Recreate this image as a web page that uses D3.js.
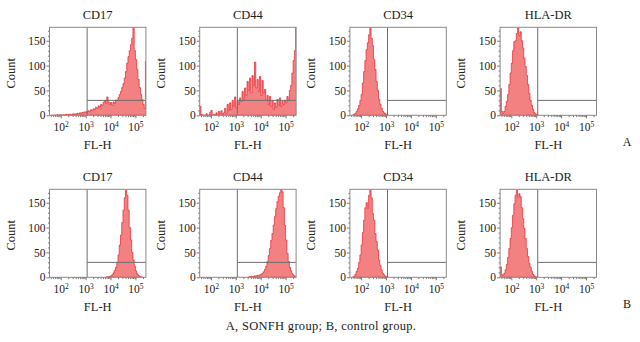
<!DOCTYPE html>
<html>
<head>
<meta charset="utf-8">
<script src="https://cdn.jsdelivr.net/npm/d3@7"></script>
<style>
  body { margin: 0; background: #fff; }
  svg text { font-family: "Liberation Serif", "Times New Roman", serif !important; fill: #222; }
</style>
</head>
<body>
<div id="chart"></div>
<script>
const markers = ['CD17', 'CD44', 'CD34', 'HLA-DR'];
const groupLabels = ['A', 'B'];
const caption = 'A, SONFH group; B, control group.';
const xTicks = [1e2, 1e3, 1e4, 1e5];
const yTicks = [0, 50, 100, 150];
const logRange = [1.55, 5.42];   // log10 of FL-H shown on the x axis
const countMax = 177;
const gateX = 1150;
const gateY = 30;
const binStep = 0.05;           // bin width in log10 units

// log10 of the first bin of each histogram
const binStartA = [1.60, 1.55, 1.65, 1.55];
const binStartB = [3.80, 3.50, 1.65, 1.55];

// SONFH group counts
const countsA_CD17 = [0, 0, 0, 0, 0, 1, 0, 1, 1, 0,
  1, 1, 2, 1, 2, 2, 1, 2, 3, 2,
  3, 4, 3, 5, 4, 6, 5, 7, 6, 8,
  9, 8, 11, 10, 13, 12, 16, 14, 19, 17,
  22, 20, 26, 30, 24, 37, 27, 22, 26, 20,
  27, 24, 31, 30, 36, 42, 48, 56, 64, 75,
  88, 105, 118, 130, 142, 155, 178, 130, 112, 92,
  72, 56, 42, 32, 22, 14, 108];
const countsA_CD44 = [18, 2, 0, 0, 0, 3, 0, 0, 6, 10,
  0, 2, 0, 5, 0, 8, 3, 9, 2, 5,
  14, 4, 22, 10, 25, 12, 30, 18, 37, 15,
  28, 22, 35, 28, 48, 32, 55, 40, 68, 50,
  75, 45, 80, 60, 107, 55, 72, 48, 78, 40,
  70, 45, 52, 30, 40, 22, 38, 18, 30, 12,
  25, 16, 32, 20, 35, 18, 28, 22, 30, 25,
  38, 32, 50, 60, 85, 110, 130, 178];
const countsA_CD34 = [0, 2, 4, 8, 13, 20, 30, 42, 65, 88,
  110, 132, 146, 162, 178, 155, 140, 112, 92, 68,
  50, 32, 22, 14, 8, 5, 3, 1, 0];
const countsA_HLADR = [54, 8, 4, 8, 18, 28, 42, 62, 85, 105,
  130, 148, 150, 165, 176, 160, 168, 150, 135, 115,
  98, 80, 62, 44, 30, 20, 12, 6, 3, 1, 0];

// control group counts
const countsB_CD17 = [0, 1, 1, 2, 3, 5, 9, 14, 20, 30,
  45, 65, 85, 110, 135, 160, 175, 165, 135, 100,
  75, 50, 35, 22, 13, 7, 4, 2, 1, 0];
const countsB_CD44 = [1, 1, 2, 1, 2, 3, 3, 4, 4, 5,
  6, 8, 11, 16, 22, 32, 44, 58, 74, 88,
  105, 122, 138, 152, 163, 170, 178, 172, 140, 105,
  75, 48, 32, 20, 13, 7, 4, 2, 1];
const countsB_CD34 = [0, 2, 6, 12, 18, 30, 45, 65, 90, 115,
  140, 150, 138, 165, 178, 160, 128, 115, 88, 72,
  55, 35, 24, 15, 8, 5, 2, 1, 0];
const countsB_HLADR = [21, 6, 4, 8, 15, 26, 40, 58, 78, 100,
  125, 148, 165, 175, 160, 168, 162, 140, 118, 98,
  78, 58, 42, 28, 20, 12, 6, 3, 1, 0];

const rows = [
  {label: groupLabels[0], starts: binStartA,
   counts: [countsA_CD17, countsA_CD44, countsA_CD34, countsA_HLADR]},
  {label: groupLabels[1], starts: binStartB,
   counts: [countsB_CD17, countsB_CD44, countsB_CD34, countsB_HLADR]},
];

const serif = '"Liberation Serif", "Times New Roman", serif';
const width = 640, height = 342;
const plotW = 96.4, plotH = 88;
const panelLeft = 49.5, panelPitch = 150.2;
const rowTop = [27.3, 189.3];

const svg = d3.select('#chart').append('svg')
  .attr('width', width)
  .attr('height', height)
  .attr('font-family', serif);

const x = d3.scaleLog()
  .domain(logRange.map(v => Math.pow(10, v)))
  .range([0, plotW]);
const y = d3.scaleLinear().domain([0, countMax]).range([plotH, 0]);

// minor log ticks 2..9 x 10^k inside the domain
const minorX = [];
for (let k = 1; k <= 5; k++) {
  for (let m = 2; m <= 9; m++) {
    const v = m * Math.pow(10, k);
    if (v >= x.domain()[0] && v <= x.domain()[1]) minorX.push(v);
  }
}
const minorY = d3.range(0, 171, 10).filter(v => v % 50 !== 0);

const area = d3.area()
  .x(d => x(d.x))
  .y0(plotH)
  .y1(d => y(d.c))
  .curve(d3.curveStepAfter);

rows.forEach((row, r) => {
  markers.forEach((name, i) => {
    const g = svg.append('g')
      .attr('transform', `translate(${panelLeft + i * panelPitch}, ${rowTop[r]})`);

    const clipId = `clip-${r}-${i}`;
    g.append('clipPath').attr('id', clipId)
      .append('rect').attr('width', plotW).attr('height', plotH);

    // histogram bins -> step outline
    const counts = row.counts[i];
    const start = row.starts[i];
    const pts = counts.map((c, j) => ({x: Math.pow(10, start + j * binStep), c}));
    pts.push({x: Math.pow(10, start + counts.length * binStep), c: counts[counts.length - 1]});

    g.append('path')
      .attr('clip-path', `url(#${clipId})`)
      .attr('d', area(pts))
      .attr('fill', '#f38181')
      .attr('stroke', '#e8232b')
      .attr('stroke-width', 0.7);

    // gate lines
    g.append('line')
      .attr('x1', x(gateX)).attr('x2', x(gateX))
      .attr('y1', 0).attr('y2', plotH)
      .attr('stroke', '#6e6e6e').attr('stroke-width', 1);
    g.append('line')
      .attr('x1', x(gateX)).attr('x2', plotW)
      .attr('y1', y(gateY)).attr('y2', y(gateY))
      .attr('stroke', '#6e6e6e').attr('stroke-width', 1);

    // frame
    g.append('rect')
      .attr('width', plotW).attr('height', plotH)
      .attr('fill', 'none')
      .attr('stroke', '#8a8a8a').attr('stroke-width', 1);

    // axes
    const yAxis = g.append('g').call(d3.axisLeft(y).tickValues(yTicks).tickSize(3).tickPadding(1));
    g.append('g').call(d3.axisLeft(y).tickValues(minorY).tickSize(1.5).tickFormat(''));
    const xAxis = g.append('g')
      .attr('transform', `translate(0, ${plotH})`)
      .call(d3.axisBottom(x).tickValues(xTicks).tickSize(3).tickPadding(4).tickFormat(''));
    g.append('g')
      .attr('transform', `translate(0, ${plotH})`)
      .call(d3.axisBottom(x).tickValues(minorX).tickSize(1.8).tickFormat(''));

    g.selectAll('.domain').remove();
    g.selectAll('.tick line').attr('stroke', '#777');
    g.selectAll('g').attr('font-family', serif);

    yAxis.selectAll('text')
      .style('font-family', serif)
      .style('font-size', '11.5px')
      .attr('fill', '#222');

    // tick labels as 10 with superscript exponent
    xAxis.selectAll('.tick').each(function (d) {
      const t = d3.select(this).append('text')
        .attr('y', 16)
        .attr('text-anchor', 'middle')
        .attr('fill', '#222')
        .style('font-family', serif)
        .style('font-size', '11.5px');
      t.append('tspan').text('10');
      t.append('tspan')
        .attr('dy', -4.5)
        .style('font-size', '7.5px')
        .text(Math.round(Math.log10(d)));
    });

    // panel title and axis titles
    g.append('text')
      .attr('x', plotW / 2).attr('y', -8)
      .attr('text-anchor', 'middle')
      .style('font-family', serif)
      .style('font-size', '12.5px')
      .text(name);
    g.append('text')
      .attr('x', plotW / 2).attr('y', plotH + 34)
      .attr('text-anchor', 'middle')
      .style('font-family', serif)
      .style('font-size', '12.5px')
      .text('FL-H');
    g.append('text')
      .attr('transform', `translate(-35, ${plotH / 2 + 2}) rotate(-90)`)
      .attr('text-anchor', 'middle')
      .style('font-family', serif)
      .style('font-size', '12.5px')
      .text('Count');
  });

  svg.append('text')
    .attr('x', 627).attr('y', rowTop[r] + plotH + 31)
    .attr('text-anchor', 'middle')
    .style('font-family', serif)
    .style('font-size', '12px')
    .text(row.label);
});

svg.append('text')
  .attr('x', 321).attr('y', 330)
  .attr('text-anchor', 'middle')
  .style('font-family', serif)
  .style('font-size', '12.5px')
  .style('letter-spacing', '0.3px')
  .text(caption);
</script>
</body>
</html>
